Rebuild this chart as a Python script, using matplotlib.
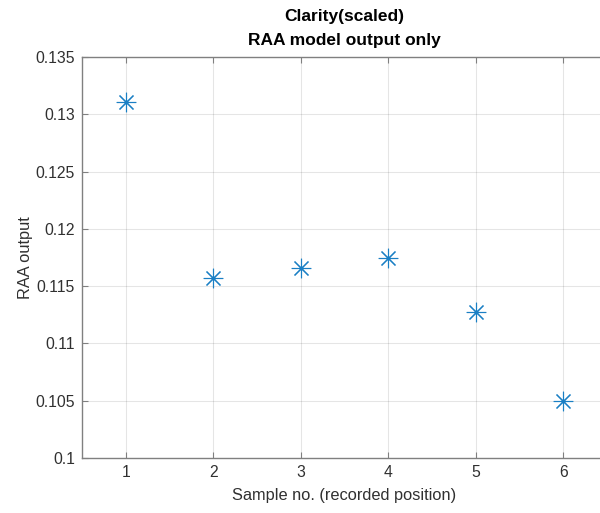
import matplotlib.pyplot as plt

plt.rcParams['font.family'] = ['Liberation Sans', 'DejaVu Sans']

# RAA model output per recorded position
samples = [1, 2, 3, 4, 5, 6]
raa_output = [0.1311, 0.1157, 0.11655, 0.11743, 0.11272, 0.10495]
yticks = [0.1, 0.105, 0.11, 0.115, 0.12, 0.125, 0.13, 0.135]
ytick_labels = ['0.1', '0.105', '0.11', '0.115', '0.12', '0.125', '0.13', '0.135']

axis_col = '#303030'
spine_col = '#808080'

fig = plt.figure(figsize=(6.0, 5.13), dpi=100)
ax = fig.add_axes([82 / 600, 1 - 458 / 513, (607 - 82) / 600, (458 - 57) / 513])

ax.plot(samples, raa_output, linestyle='none', marker=(8, 2, 0),
        markersize=14, markeredgewidth=0.8, color='#1a7fc4')

ax.set_xlim(0.5, 6.5)
ax.set_ylim(0.1, 0.135)
ax.set_xticks(samples)
ax.set_yticks(yticks)
ax.set_yticklabels(ytick_labels)

ax.grid(True, color='#000000', alpha=0.1, linewidth=0.8)
ax.set_axisbelow(True)
for s in ax.spines.values():
    s.set_color(spine_col)
    s.set_linewidth(1.0)
ax.tick_params(direction='in', length=4, width=0.8, colors=spine_col,
               labelcolor=axis_col, labelsize=11.3, top=True, right=True, pad=5)

ax.set_xlabel('Sample no. (recorded position)', fontsize=11.8, color=axis_col, labelpad=6)
ax.set_ylabel('RAA output', fontsize=11.8, color=axis_col, labelpad=2)
ax.set_title('Clarity(scaled)\nRAA model output only', fontsize=12.5, fontweight='bold',
             color='#000000', pad=9, linespacing=1.75)

fig.savefig('out.png', dpi=100)
